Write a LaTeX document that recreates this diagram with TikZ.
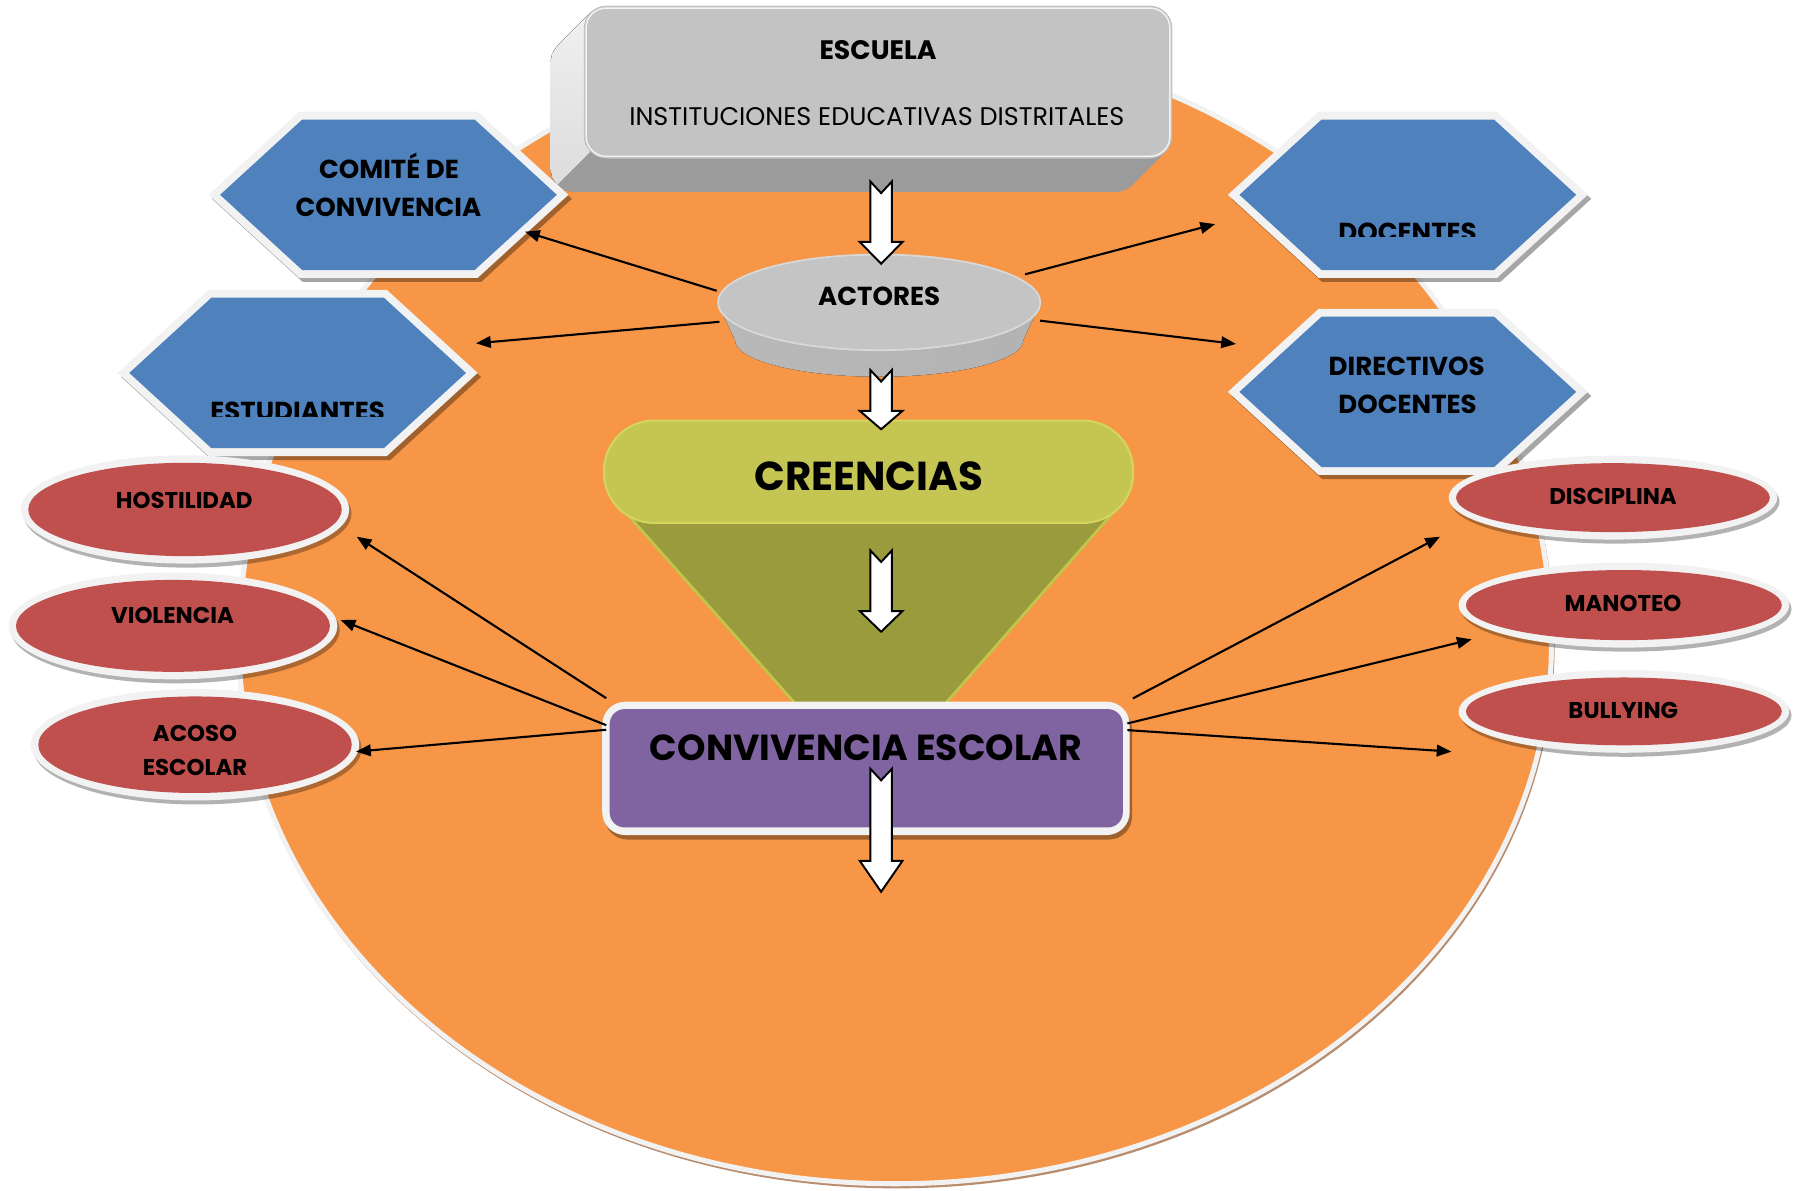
\documentclass[tikz,border=0pt]{standalone}
\usepackage{fontspec}
\setmainfont{Poppins}
\usetikzlibrary{arrows.meta}

\definecolor{orangebg}{HTML}{F79646}
\definecolor{rim}{HTML}{F2F2F2}
\definecolor{rimshadow}{HTML}{B98C6E}
\definecolor{hexblue}{HTML}{4F81BD}
\definecolor{ovalred}{HTML}{C0504D}
\definecolor{boxpurple}{HTML}{8064A2}
\definecolor{pilllime}{HTML}{C4C552}
\definecolor{pillrim}{HTML}{D3D55C}
\definecolor{funnelolive}{HTML}{999B3C}
\definecolor{funneledge}{HTML}{C2C54A}
\definecolor{boxgray}{HTML}{C3C3C3}
\definecolor{boxdark}{HTML}{9B9B9B}
\definecolor{boxlight}{HTML}{DCDCDC}
\definecolor{boxlighttop}{HTML}{F0F0F0}
\definecolor{diskgray}{HTML}{C4C4C4}
\definecolor{diskrim}{HTML}{D8D8D8}

% outline of the large background disc
\newcommand{\discoutline}{(208,560) arc[start angle=180,end angle=360,x radius=571,y radius=526]
  arc[start angle=0,end angle=180,x radius=571,y radius=470] -- cycle}
% hexagon outlines, centred on the origin
\newcommand{\hexouter}{(-156.6,0) -- (-77.6,-72.3) -- (77.6,-72.3) -- (156.6,0) -- (77.6,72.3) -- (-77.6,72.3) -- cycle}
\newcommand{\hexinner}{(-146.5,0) -- (-75,-65.5) -- (75,-65.5) -- (146.5,0) -- (75,65.5) -- (-75,65.5) -- cycle}
% white block arrow with notched tail: x, tail y, tip y, head length
\newcommand{\blkarrow}[4]{%
  \draw[blockarrow] (#1-9.3,#2) -- (#1,#2+10) -- (#1+9.3,#2) -- (#1+9.3,#3-#4)
    -- (#1+18.6,#3-#4) -- (#1,#3) -- (#1-18.6,#3-#4) -- (#1-9.3,#3-#4) -- cycle;}

\begin{document}
\begin{tikzpicture}[x=0.011492cm,y=-0.011492cm,
  every node/.style={inner sep=0pt, anchor=base},
  titletxt/.style={font=\bfseries\fontsize{7.6}{9}\selectfont},
  subtxt/.style={font=\fontsize{7.25}{9}\selectfont},
  hextxt/.style={font=\bfseries\fontsize{7.4}{9}\selectfont},
  ovaltxt/.style={font=\bfseries\fontsize{6.5}{8}\selectfont},
  bigtxt/.style={font=\bfseries\fontsize{11.5}{13}\selectfont},
  convtxt/.style={font=\bfseries\fontsize{10.3}{12}\selectfont},
  conn/.style={line width=0.6pt, -{Triangle[length=4.2pt,width=3.3pt]}},
  blockarrow/.style={draw=black, fill=white, line width=0.55pt, line join=miter},
]
\useasboundingbox (0,0) rectangle (1568,1036);

% ---------- background disc ----------
\draw[rimshadow, line width=1pt, shift={(1.2,2.5)}] \discoutline;
\draw[fill=orangebg, draw=rim, line width=1.44pt] \discoutline;

% ---------- ESCUELA block (extruded box) ----------
\foreach \i in {0,1,...,29}
  \fill[boxdark, rounded corners=0.23cm] (508-\i,5+\i) rectangle (1020-\i,138+\i);
\fill[top color=boxlighttop, bottom color=boxlight]
  (513.9,10.9) -- (484.9,39.9) -- (480.5,46.5) -- (479,54) -- (479,147) -- (480.5,154.5)
  -- (484.9,161.1) -- (513.9,132.1) -- (509.5,125.5) -- (508,118) -- (508,25) -- (509.5,17.5) -- cycle;
\fill[boxgray, rounded corners=0.23cm] (508,5) rectangle (1020,138);
\draw[white!80!boxgray, line width=0.4pt, rounded corners=0.2cm] (510,7) rectangle (1018,136);

% ---------- hexagons ----------
\foreach \cx/\cy in {338/169.5, 259/324.5, 1225/169.5, 1225/341}{
  \begin{scope}[shift={(\cx,\cy)}]
    \fill[black, fill opacity=0.35, shift={(3,3.5)}] \hexouter;
    \fill[rim] \hexouter;
    \fill[hexblue] \hexinner;
  \end{scope}}

% ---------- ovals ----------
\foreach \cx/\cy/\rx/\ry in {161/443.3/136.4/40.6, 150.5/544.6/136.6/40, 169.7/648/136.4/42,
    1403.5/433/136.5/30, 1413/526.5/137.4/30.5, 1413/619/137.4/29.5}{
  \pgfmathsetmacro\ox{\rx+6.5}
  \pgfmathsetmacro\oy{\ry+6.5}
  \fill[black, fill opacity=0.3] (\cx+2,\cy+3.5) ellipse[x radius=\ox, y radius=\oy];
  \fill[rim] (\cx,\cy) ellipse[x radius=\ox, y radius=\oy];
  \fill[ovalred] (\cx,\cy) ellipse[x radius=\rx, y radius=\ry];
}

% ---------- ACTORES disc ----------
\fill[left color=gray!55, middle color=gray!75, right color=gray!60]
  (624.2,263.1) -- (639.6,295.9) arc[start angle=180,end angle=0,x radius=125.4,y radius=31.9]
  -- (905.6,263.1) -- cycle;
\fill[diskgray] (765,263.1) ellipse[x radius=140.7, y radius=42.1];
\draw[diskrim, line width=0.5pt] (765,263.1) ellipse[x radius=140.2, y radius=41.6];

% ---------- CREENCIAS funnel ----------
\fill[funnelolive] (530.8,430) -- (698.9,620) -- (815.8,620) -- (982.1,430) -- cycle;
\draw[funneledge, line width=0.8pt] (533,433) -- (698.9,620);
\draw[funneledge, line width=0.8pt] (980,433) -- (815.8,620);
\fill[pilllime, rounded corners=0.5cm] (525.6,366) rectangle (986,455);
\draw[pillrim, line width=0.6pt, rounded corners=0.5cm] (525.6,366) rectangle (986,455);

% ---------- CONVIVENCIA ESCOLAR box ----------
\fill[black, fill opacity=0.35, rounded corners=0.23cm] (526,614.5) rectangle (985,730.5);
\fill[rim, rounded corners=0.23cm] (524,610.6) rectangle (983,726.6);
\fill[boxpurple, rounded corners=0.15cm] (530.5,617) rectangle (977,720);

% ---------- connector end points ----------
\coordinate (act-nw) at (623.6,253);
\coordinate (act-sw) at (626,280);
\coordinate (act-ne) at (892,238.7);
\coordinate (act-se) at (905,279);
\coordinate (comite-in) at (456.8,201.6);
\coordinate (estud-in) at (414.2,298.7);
\coordinate (docen-in) at (1057.3,195);
\coordinate (direc-in) at (1075.5,299.3);
\coordinate (conv-w1) at (527.5,607.5);
\coordinate (conv-w2) at (527.5,631);
\coordinate (conv-w3) at (527.5,635);
\coordinate (conv-e1) at (985.8,607.7);
\coordinate (conv-e2) at (981,629.5);
\coordinate (conv-e3) at (981,635.3);
\coordinate (host-in) at (310.4,467);
\coordinate (viol-in) at (296.4,539.5);
\coordinate (acoso-in) at (309.8,654);
\coordinate (disc-in) at (1253,467);
\coordinate (mano-in) at (1280.6,556.3);
\coordinate (bull-in) at (1263,654);

% ---------- connectors ----------
\draw[conn] (act-nw) -- (comite-in);
\draw[conn] (act-sw) -- (estud-in);
\draw[conn] (act-ne) -- (docen-in);
\draw[conn] (act-se) -- (direc-in);
\draw[conn] (conv-w1) -- (host-in);
\draw[conn] (conv-w2) -- (viol-in);
\draw[conn] (conv-w3) -- (acoso-in);
\draw[conn] (conv-e1) -- (disc-in);
\draw[conn] (conv-e2) -- (mano-in);
\draw[conn] (conv-e3) -- (bull-in);

% ---------- block arrows ----------
\blkarrow{766.7}{158}{229.5}{19}
\blkarrow{766.7}{322}{373.5}{16}
\blkarrow{766.7}{479}{549.7}{18}
\blkarrow{766.7}{669}{776}{27}

% ---------- labels ----------
\node[titletxt] (escuela) at (764,52.2) {ESCUELA};
\node[subtxt] (instituciones) at (763,108.8) {INSTITUCIONES EDUCATIVAS DISTRITALES};
\node[hextxt] (comite-a) at (338.5,155.2) {COMITÉ DE};
\node[hextxt] (comite-b) at (338,188) {CONVIVENCIA};
\begin{scope}
  \clip (150,330) rectangle (370,362.5);
  \node[hextxt] (estudiantes) at (259,365.5) {ESTUDIANTES};
\end{scope}
\begin{scope}
  \clip (1100,180) rectangle (1350,206.2);
  \node[hextxt] (docentes) at (1224.8,210.3) {DOCENTES};
\end{scope}
\node[hextxt] (directivos-a) at (1224,326.3) {DIRECTIVOS};
\node[hextxt] (directivos-b) at (1224.8,359.7) {DOCENTES};
\node[hextxt] (actores) at (765,265.4) {ACTORES};
\node[bigtxt] (creencias) at (755.8,427) {CREENCIAS};
\node[convtxt] (convivencia) at (753.4,661.3) {CONVIVENCIA ESCOLAR};
\node[ovaltxt] (hostilidad) at (160.3,442.4) {HOSTILIDAD};
\node[ovaltxt] (violencia) at (150.1,542.4) {VIOLENCIA};
\node[ovaltxt] (acoso-a) at (169.7,645.4) {ACOSO};
\node[ovaltxt] (acoso-b) at (169.7,674.4) {ESCOLAR};
\node[ovaltxt] (disciplina) at (1403.6,438.6) {DISCIPLINA};
\node[ovaltxt] (manoteo) at (1412.2,532.3) {MANOTEO};
\node[ovaltxt] (bullying) at (1412.5,625.1) {BULLYING};
\end{tikzpicture}
\end{document}
